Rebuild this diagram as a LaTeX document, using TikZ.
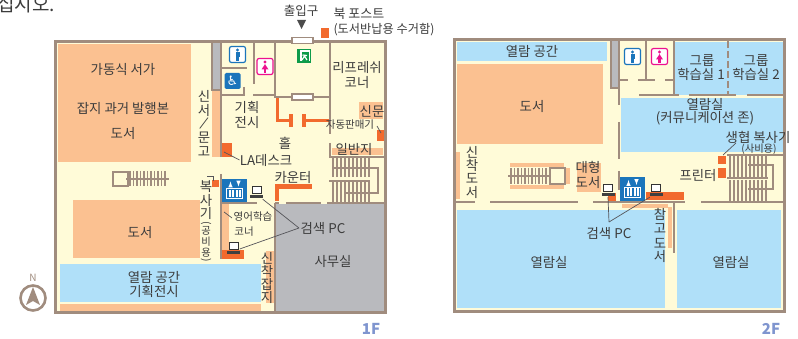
\documentclass[tikz,border=0pt]{standalone}
\usepackage{fontspec}
\setmainfont{Noto Sans CJK KR}
\newfontfamily\symfont{DejaVu Sans}
\definecolor{cream}{HTML}{FFFBD8}
\definecolor{peach}{HTML}{FBC191}
\definecolor{skyb}{HTML}{B0E0F9}
\definecolor{grayr}{HTML}{B9BABE}
\definecolor{wallc}{HTML}{A08C7E}
\definecolor{orng}{HTML}{F26A2E}
\definecolor{elev}{HTML}{1B75BB}
\definecolor{pinkc}{HTML}{EC118F}
\definecolor{greenc}{HTML}{0E9B4A}
\definecolor{txtc}{HTML}{3C3C3C}
\definecolor{floorc}{HTML}{7F95CF}
\definecolor{leadc}{HTML}{55555A}
\tikzset{
  x=1pt,y=-1pt,
  wall/.style={draw=wallc,line width=2pt},
  outer/.style={draw=wallc,line width=3pt,fill=cream},
  lab/.style={font=\fontsize{13.4}{12}\selectfont,text=txtc,inner sep=0pt,align=center},
  smalllab/.style={lab,font=\fontsize{10.5}{10.5}\selectfont},
  tinylab/.style={lab,font=\fontsize{10.3}{10.3}\selectfont},
  leader/.style={draw=leadc,line width=0.7pt},
  fl/.style={font=\fontsize{15}{15}\selectfont\bfseries,text=floorc,inner sep=0pt},
  doorbox/.style={draw=wallc,line width=1.2pt,fill=white},
  stairl/.style={draw=wallc,line width=1.3pt},
  pcbox/.style={inner sep=0pt,minimum width=12pt,minimum height=12pt},
}
\newcommand{\rct}[5]{\fill[#1] (#2,#3) rectangle (#4,#5);}
\newcommand{\pcicon}[3]{%
  \node[pcbox] (#1) at (#2,#3) {};
  \draw[fill=white,draw=black!80,line width=1pt] (#2-4.5,#3-6) rectangle (#2+4.5,#3+1);
  \fill[black!75] (#2-6.5,#3+2.5) rectangle (#2+6.5,#3+5.5);
}
\newcommand{\wcicon}[4]{%
  \node[draw=#4,line width=1.2pt,rounded corners=2pt,fill=white,minimum width=16pt,minimum height=16pt,inner sep=0pt] (#1) at (#2,#3) {};
  \fill[#4] (#2,#3-4.5) circle (1.7);
}
\newcommand{\manbody}[2]{\fill[elev] (#1-2,#2-2.2) rectangle (#1+2,#2+2.5); \fill[elev] (#1-1.2,#2+2.5) rectangle (#1+1.2,#2+6.5);}
\newcommand{\womanbody}[2]{\fill[pinkc] (#1,#2-2.4) -- (#1+3.5,#2+3) -- (#1-3.5,#2+3) -- cycle; \fill[pinkc] (#1-1.2,#2+3) rectangle (#1+1.2,#2+6.5);}
\newcommand{\elevicon}[5]{%
  \node[fill=elev,inner sep=0pt,minimum width=#4pt,minimum height=#5pt] (#1) at (#2,#3) {};
  \draw[white,line width=0.9pt] (#2-8,#3-2) rectangle (#2+8,#3+8);
  \foreach \dx in {-6,-2.5,1,4.5} {\fill[white] (#2+\dx,#3-0.5) rectangle (#2+\dx+2,#3+7);}
  \draw[white,line width=1pt,-latex] (#2-4,#3-4) -- (#2-4,#3-9);
  \draw[white,line width=1pt,-latex] (#2+4,#3-9) -- (#2+4,#3-4);
}
\begin{document}
\begin{tikzpicture}
\useasboundingbox (0,0) rectangle (798,339);
\fill[white] (0,0) rectangle (798,339);
\node[anchor=base east,inner sep=0pt,font=\fontsize{19}{19}\selectfont,text=txtc] (toptext) at (55,12) {십시오.};
%%% ---------- 1F fills
\draw[outer] (55.5,41.5) rectangle (385,312);
\rct{peach}{58}{44}{191}{162}
\rct{grayr}{212}{43}{220}{90}
\rct{peach}{212}{90}{220}{157}
\rct{orng}{222}{143}{232}{157}
\rct{peach}{359}{102}{383}{119}
\rct{orng}{377}{130}{384}{141}
\rct{peach}{332}{148}{383}{155}
\rct{orng}{321}{28}{329}{38}
\rct{grayr}{276}{204}{384}{311}
\rct{peach}{73}{200}{200}{258}
\rct{skyb}{60}{264}{261}{302}
\rct{peach}{60}{304}{261}{311}
\rct{peach}{266}{251}{274}{303}
\rct{peach}{222}{204}{229}{250}
\rct{orng}{222}{250}{244}{259}
\rct{orng}{212}{180}{219}{187}
\rct{orng}{275}{184}{312}{189}
\rct{orng}{275}{184}{279}{201}
\rct{orng}{276}{98}{279}{122}
\rct{orng}{276}{119}{293}{122}
\rct{orng}{289}{114}{293}{127}
\rct{orng}{302}{114}{306}{127}
\rct{orng}{302}{119}{330}{122}
%%% 1F walls
\draw[wall] (221,42) -- (221,157);
\draw[wall] (212,42) -- (212,90) -- (221,90);
\draw[wall] (220,68) -- (247,68);
\draw[wall] (254,42) -- (254,84);
\draw[wall] (244,87) -- (244,95);
\draw[wall,line width=1.4pt] (221,95) -- (245,95);
\draw[wall,line width=1.4pt] (253,95) -- (275,95);
\draw[wall] (275,42) -- (275,97) -- (330,97);
\draw[wall] (330,42) -- (330,134);
\draw[wall] (330,143) -- (330,157) -- (385,157);
\draw[wall] (221,174) -- (221,259);
\draw[wall] (222,203.5) -- (257,203.5);
\draw[wall] (275,203.5) -- (279,203.5);
\draw[wall] (286,203.5) -- (321,203.5);
\draw[wall] (327,203.5) -- (385,203.5);
\draw[wall] (275,203) -- (275,312);
\node[doorbox,minimum width=21pt,minimum height=6pt,inner sep=0pt] (door1a) at (302.5,40.5) {};
\node[doorbox,minimum width=21pt,minimum height=6pt,inner sep=0pt] (door1b) at (302.5,97) {};
%%% 1F stairs
\foreach \xx in {333,337,...,369} {\draw[stairl] (\xx,158) -- (\xx,177); \draw[stairl] (\xx,181) -- (\xx,202);}
\draw[stairl] (332,168) -- (378,168) -- (378,193) -- (346,193);
\draw[stairl] (329,181) -- (370,181);
\draw[wallc,line width=1.2pt] (113,172) rectangle (128,186);
\foreach \xx in {130,133.5,...,166} {\draw[stairl] (\xx,171) -- (\xx,186);}
\draw[stairl] (126,179) -- (169,179);
%%% 1F icons
\fill[black!70] (297,20) -- (306,20) -- (301.5,29) -- cycle;
\wcicon{man1}{237.5}{54.5}{elev}
\manbody{237.5}{54.5}
\wcicon{woman1}{265}{66.5}{pinkc}
\womanbody{265}{66.5}
\node[fill=elev,rounded corners=1.5pt,minimum width=16pt,minimum height=16pt,inner sep=0pt,text=white,font=\symfont\fontsize{13}{13}\selectfont] (wheel1) at (232.5,81) {♿};
\node[fill=greenc,minimum width=14pt,minimum height=14pt,inner sep=0pt] (exit1) at (304,56) {};
\fill[white] (300,50.5) rectangle (310,61.5);
\fill[greenc] (301.5,52) rectangle (308.5,61.5);
\draw[white,line width=1.2pt] (302,60) -- (304.5,56) -- (307,60);
\draw[white,line width=1.2pt] (302.5,55) -- (307,55.5);
\elevicon{elev1}{234.5}{190.5}{25}{23}
\pcicon{pcA}{256.5}{193}
\pcicon{pcB}{233.5}{249}
\coordinate (hubA) at (299,228);
\draw[leader] (pcA.south east) -- (hubA);
\draw[leader] (pcB.east) -- (hubA);
\coordinate (laA) at (224,152);
\coordinate (vendA) at (377,126);
\coordinate (vendB) at (381,133);
\coordinate (engA) at (224,212);
\coordinate (engB) at (232,218);
\draw[leader] (vendA) -- (vendB);
\draw[leader] (engA) -- (engB);
\draw[leader] (207,176) -- (213,176) -- (213,181);
%%% compass
\node[circle,draw=wallc,line width=2.6pt,fill=white,minimum size=25pt,inner sep=0pt] (compass) at (33,298) {};
\fill[wallc] (33,287) -- (40,305) -- (33,301) -- (26,305) -- cycle;
\node[font=\fontsize{10}{10}\selectfont,text=wallc,inner sep=0pt] (northN) at (33,278) {N};
%%% 1F text
\node[lab] (t1) at (123,69) {가동식 서가};
\node[lab] (t2) at (123,108) {잡지 과거 발행본};
\node[lab] (t3) at (123,133) {도서};
\node[lab] (t4a) at (204,96) {신};
\node[lab] (t4b) at (204,110.5) {서};
\node[lab] (t4c) at (204,124) {\rotatebox{-20}{/}};
\node[lab] (t4d) at (204,138) {문};
\node[lab] (t4e) at (204,151.5) {고};
\node[lab,font=\fontsize{12.5}{12.5}\selectfont] (t5) at (301,11) {출입구};
\node[lab,font=\fontsize{13}{13}\selectfont] (t6) at (359,14) {북 포스트};
\node[lab,font=\fontsize{12.2}{12.2}\selectfont] (t7) at (384,30) {(도서반납용 수거함)};
\node[lab] (t8) at (357,75) {리프레쉬\\[2pt]코너};
\node[lab] (t9) at (372,111) {신문};
\node[smalllab] (t10) at (350,125) {자동판매기};
\node[lab] (t11) at (354,149) {일반지};
\node[lab] (t12) at (247,115) {기획\\[2pt]전시};
\node[lab] (t13) at (285,143) {홀};
\node[lab] (t14) at (266,160) {LA데스크};
\draw[leader] (laA) -- (t14.west);
\node[lab] (t15) at (293,177) {카운터};
\node[smalllab] (t16) at (253,217) {영어학습};
\node[smalllab] (t17) at (244,232) {코너};
\node[lab] (t18) at (323,228) {검색 PC};
\node[lab] (t19) at (333,261) {사무실};
\node[lab] (t20a) at (267,258) {신};
\node[lab] (t20b) at (267,271) {착};
\node[lab] (t20c) at (267,284) {잡};
\node[lab] (t20d) at (267,297) {지};
\node[lab] (t21a) at (206,187) {복};
\node[lab] (t21b) at (206,200) {사};
\node[lab] (t21c) at (206,213) {기};
\node[tinylab] (t22a) at (206,223) {\rotatebox{-90}{(}};
\node[tinylab] (t22b) at (206,231) {공};
\node[tinylab] (t22c) at (206,242) {비};
\node[tinylab] (t22d) at (206,253) {용};
\node[tinylab] (t22e) at (206,260) {\rotatebox{-90}{)}};
\node[lab] (t23) at (140,232) {도서};
\node[lab] (t24) at (154,277) {열람 공간};
\node[lab] (t25) at (154,291) {기획전시};
\node[fl] (f1) at (371,329) {1F};
%%% ---------- 2F fills
\draw[outer] (454.5,40) rectangle (784.5,311.5);
\rct{skyb}{457}{42}{607}{61}
\rct{peach}{457}{64}{603}{144}
\rct{grayr}{611}{41}{618}{87}
\rct{skyb}{675}{42}{783}{95}
\rct{skyb}{621}{98}{783}{152}
\rct{peach}{456}{152}{460}{199}
\rct{peach}{577}{163}{601}{192}
\rct{peach}{510}{163}{564}{167}
\rct{peach}{510}{185}{564}{189}
\rct{peach}{566}{168}{570}{184}
\rct{orng}{718}{156}{726}{164}
\rct{orng}{718}{168}{726}{178}
\rct{orng}{608}{193}{616}{201}
\rct{orng}{646}{192}{684}{200}
\rct{peach}{622}{204}{668}{208}
\rct{peach}{668}{207}{672}{248}
\rct{skyb}{457}{210}{665}{308}
\rct{skyb}{677}{210}{781}{308}
%%% 2F walls
\draw[wall] (611,40) -- (611,88) -- (620,88);
\draw[wall] (619,40) -- (619,105);
\draw[wall] (619,122) -- (619,159);
\draw[wall] (619,171) -- (619,190);
\draw[wall] (646,40) -- (646,80);
\draw[wall] (620,80) -- (628,80);
\draw[wall] (638,80) -- (655,80);
\draw[wall] (665,80) -- (674,80);
\draw[wall] (674,40) -- (674,95);
\draw[wall] (639,95) -- (679,95);
\draw[wall] (689,95) -- (736,95);
\draw[wall] (747,95) -- (784,95);
\draw[wall,dash pattern=on 7pt off 3pt,line width=1.5pt] (728,41) -- (728,95);
\draw[wall] (727,155) -- (784,155);
\draw[wall] (456,202) -- (475,202);
\draw[wall] (490,202) -- (578,202);
\draw[wall] (593,202) -- (685,202);
\draw[wall] (701,202) -- (784,202);
\draw[wall] (674,202) -- (674,253);
%%% 2F stairs
\foreach \xx in {730,734,...,767} {\draw[stairl] (\xx,156) -- (\xx,177); \draw[stairl] (\xx,180) -- (\xx,201);}
\draw[stairl] (748,165) -- (773,165) -- (773,189) -- (748,189);
\draw[stairl] (727,178) -- (768,178);
\draw[wallc,line width=1.2pt] (550,168) rectangle (565,184);
\foreach \xx in {511,514.5,...,548} {\draw[stairl] (\xx,168) -- (\xx,184);}
\draw[stairl] (508,176) -- (550,176);
%%% 2F icons
\wcicon{man2}{632.5}{56.5}{elev}
\manbody{632.5}{56.5}
\wcicon{woman2}{659.5}{56.5}{pinkc}
\womanbody{659.5}{56.5}
\elevicon{elev2}{632.5}{189}{25}{24}
\pcicon{pcC}{608}{191}
\pcicon{pcD}{656}{191}
\coordinate (hubB) at (609,222);
\draw[leader] (pcC.south) -- (hubB);
\draw[leader] (pcD.south west) -- (hubB);
%%% 2F text
\node[lab] (u1) at (532,51) {열람 공간};
\node[lab] (u2) at (532,106) {도서};
\node[lab] (u3a) at (472,152) {신};
\node[lab] (u3b) at (472,165) {착};
\node[lab] (u3c) at (472,178) {도};
\node[lab] (u3d) at (472,192) {서};
\node[lab] (u4) at (588,175) {대형\\[2pt]도서};
\node[lab] (u5) at (702,61) {그룹};
\node[lab] (u6) at (701,74) {학습실 1};
\node[lab] (u7) at (756,61) {그룹};
\node[lab] (u8) at (756,74) {학습실 2};
\node[lab] (u9) at (705,104) {열람실};
\node[lab] (u10) at (705,118) {(커뮤니케이션 존)};
\node[lab] (u11) at (758,137) {생협 복사기};
\node[tinylab] (u12) at (759,149) {(사비용)};
\coordinate (copyL) at (723,155);
\draw[leader] (copyL) -- (736,143);
\node[lab] (u13) at (698,175) {프린터};
\node[lab] (u14) at (609,233) {검색 PC};
\node[lab] (u15a) at (660,214) {참};
\node[lab] (u15b) at (660,229) {고};
\node[lab] (u15c) at (660,243) {도};
\node[lab] (u15d) at (660,256) {서};
\node[lab] (u16) at (549,262) {열람실};
\node[lab] (u17) at (731,262) {열람실};
\node[fl] (f2) at (771,329) {2F};
\end{tikzpicture}
\end{document}
